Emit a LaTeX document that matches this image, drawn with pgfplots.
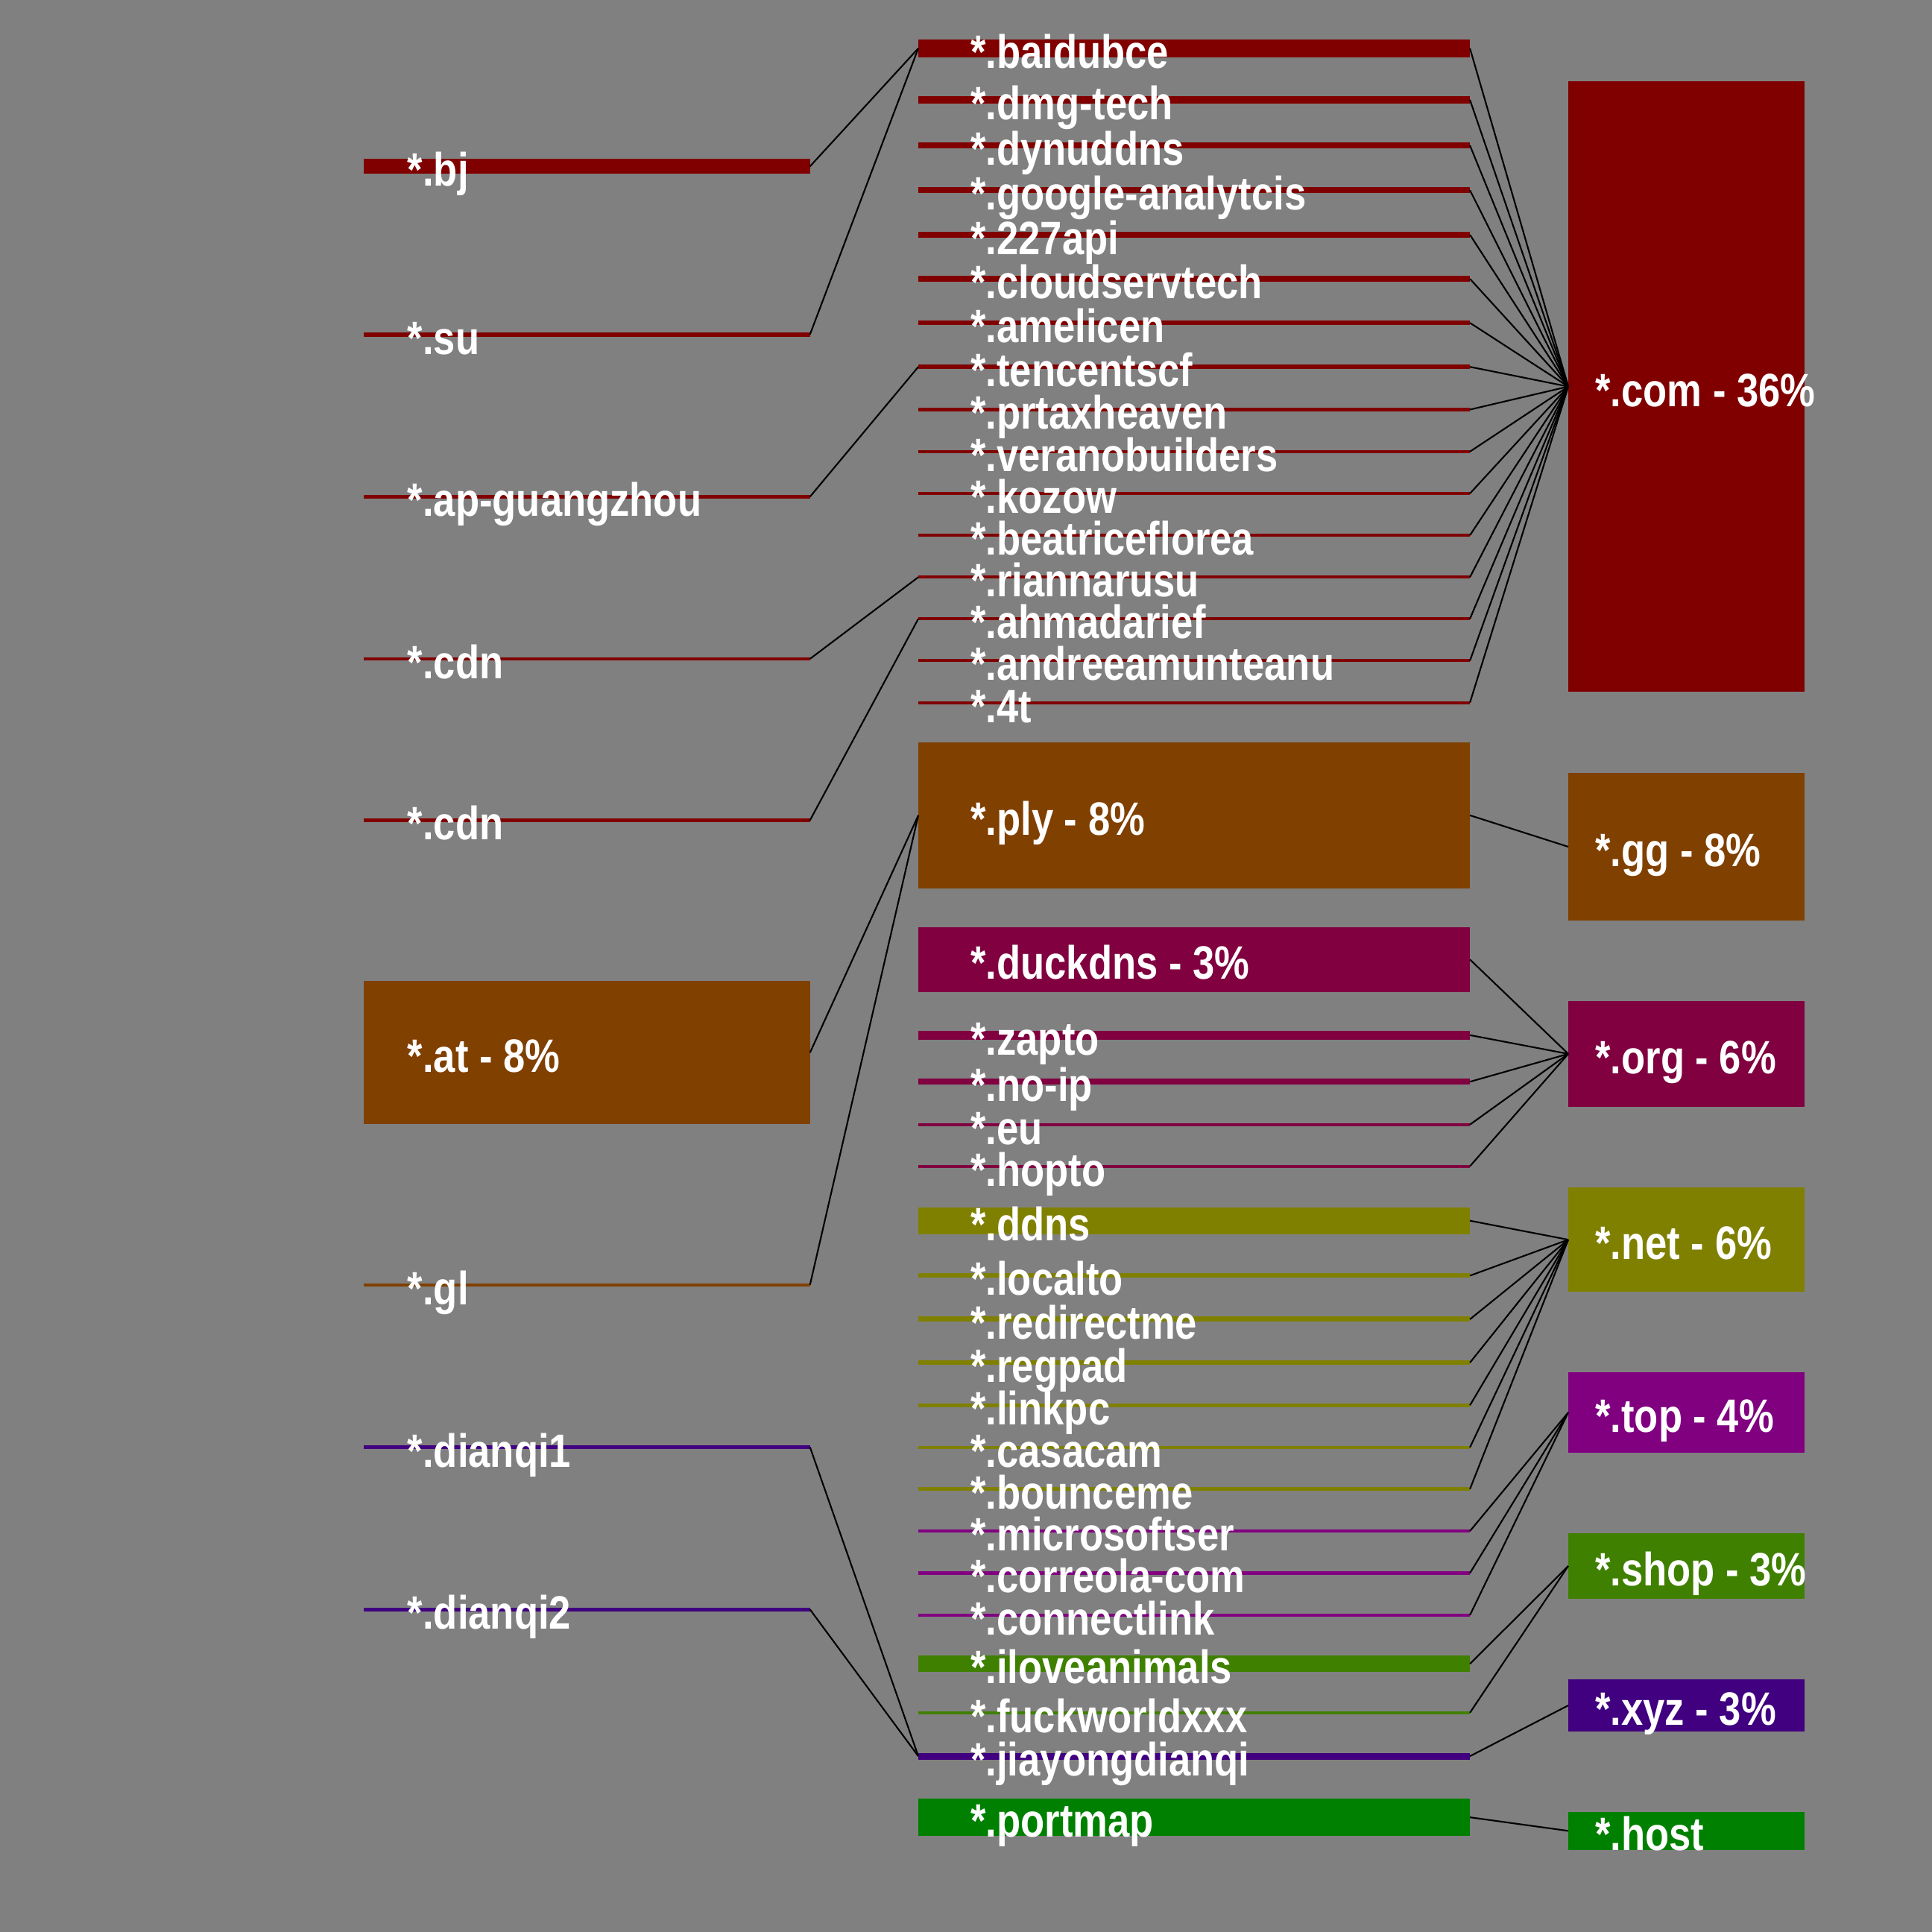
\documentclass[border=0pt]{standalone}
\usepackage{fontspec}
\newfontfamily\lblfont{Liberation Sans}[FakeStretch=0.837]
\usepackage{pgfplots}
\pgfplotsset{compat=1.18}
\definecolor{bg}{HTML}{808080}
\definecolor{cA}{HTML}{800000}
\definecolor{cB}{HTML}{804000}
\definecolor{cC}{HTML}{800040}
\definecolor{cD}{HTML}{808000}
\definecolor{cE}{HTML}{800080}
\definecolor{cF}{HTML}{408000}
\definecolor{cG}{HTML}{400080}
\definecolor{cH}{HTML}{008000}
% bar: x0 x1 y0 y1 colour
\newcommand{\bx}[5]{\addplot[fill=#5, draw=none] coordinates {(#1,#3) (#2,#3) (#2,#4) (#1,#4)};}
% link: x0 y0 x1 y1
\newcommand{\lk}[4]{\addplot[black, line width=0.32pt] coordinates {(#1,#2) (#3,#4)};}
% label: x y(baseline) text
\newcommand{\lb}[3]{\node[anchor=base west, inner sep=0pt, text=white, font={\lblfont\bfseries\fontsize{9.5}{11}\selectfont}] at (axis cs:#1,#2) {#3};}
\begin{document}
\begin{tikzpicture}
\begin{axis}[
  scale only axis, width=392pt, height=392pt,
  xmin=0, xmax=1568, ymin=0, ymax=1568, y dir=reverse,
  enlargelimits=false, hide axis, clip=false]
\bx{0}{1568}{0}{1568}{bg}
% left column
\bx{295.4}{657.4}{129.1}{140.8}{cA}
\bx{295.4}{657.4}{269.6}{273.2}{cA}
\bx{295.4}{657.4}{401.7}{404.5}{cA}
\bx{295.4}{657.4}{533.5}{536.0}{cA}
\bx{295.4}{657.4}{664.5}{667.0}{cA}
\bx{295.4}{657.4}{796.1}{912.5}{cB}
\bx{295.4}{657.4}{1041.6}{1043.8}{cB}
\bx{295.4}{657.4}{1173.1}{1175.9}{cG}
\bx{295.4}{657.4}{1304.8}{1307.6}{cG}
% middle column
\bx{745.3}{1193}{31.9}{46.4}{cA}
\bx{745.3}{1193}{78.0}{84.1}{cA}
\bx{745.3}{1193}{115.6}{120.4}{cA}
\bx{745.3}{1193}{151.8}{156.7}{cA}
\bx{745.3}{1193}{188.1}{193.0}{cA}
\bx{745.3}{1193}{224.0}{228.5}{cA}
\bx{745.3}{1193}{260.0}{264.0}{cA}
\bx{745.3}{1193}{295.8}{299.5}{cA}
\bx{745.3}{1193}{330.8}{334.0}{cA}
\bx{745.3}{1193}{365.2}{367.8}{cA}
\bx{745.3}{1193}{399.3}{401.7}{cA}
\bx{745.3}{1193}{433.2}{435.6}{cA}
\bx{745.3}{1193}{467.1}{469.7}{cA}
\bx{745.3}{1193}{501.0}{503.3}{cA}
\bx{745.3}{1193}{535.0}{537.4}{cA}
\bx{745.3}{1193}{569.0}{571.4}{cA}
\bx{745.3}{1193}{602.5}{720.9}{cB}
\bx{745.3}{1193}{752.5}{805.0}{cC}
\bx{745.3}{1193}{836.6}{843.6}{cC}
\bx{745.3}{1193}{875.5}{880.2}{cC}
\bx{745.3}{1193}{911.4}{914.0}{cC}
\bx{745.3}{1193}{945.2}{947.7}{cC}
\bx{745.3}{1193}{979.7}{1001.7}{cD}
\bx{745.3}{1193}{1033.4}{1037.1}{cD}
\bx{745.3}{1193}{1068.6}{1072.8}{cD}
\bx{745.3}{1193}{1104.0}{1107.7}{cD}
\bx{745.3}{1193}{1139.2}{1141.8}{cD}
\bx{745.3}{1193}{1173.3}{1176.0}{cD}
\bx{745.3}{1193}{1207.1}{1209.9}{cD}
\bx{745.3}{1193}{1241.2}{1244.0}{cE}
\bx{745.3}{1193}{1275.3}{1278.1}{cE}
\bx{745.3}{1193}{1309.4}{1312.2}{cE}
\bx{745.3}{1193}{1343.6}{1356.9}{cF}
\bx{745.3}{1193}{1388.7}{1391.2}{cF}
\bx{745.3}{1193}{1422.5}{1428.0}{cG}
\bx{745.3}{1193}{1459.6}{1490.2}{cH}
% right column
\bx{1272.8}{1464.6}{65.9}{561.5}{cA}
\bx{1272.8}{1464.6}{627.1}{747.2}{cB}
\bx{1272.8}{1464.6}{812.4}{898.1}{cC}
\bx{1272.8}{1464.6}{963.6}{1048.5}{cD}
\bx{1272.8}{1464.6}{1113.7}{1178.8}{cE}
\bx{1272.8}{1464.6}{1244.4}{1297.4}{cF}
\bx{1272.8}{1464.6}{1363.0}{1405.1}{cG}
\bx{1272.8}{1464.6}{1470.5}{1501.3}{cH}
% links left -> middle
\lk{657.4}{135.0}{745.3}{39.2}
\lk{657.4}{271.4}{745.3}{39.2}
\lk{657.4}{403.1}{745.3}{297.7}
\lk{657.4}{534.7}{745.3}{468.4}
\lk{657.4}{665.7}{745.3}{502.2}
\lk{657.4}{854.3}{745.3}{661.7}
\lk{657.4}{1042.7}{745.3}{661.7}
\lk{657.4}{1174.5}{745.3}{1425.3}
\lk{657.4}{1306.2}{745.3}{1425.3}
% links middle -> right
\lk{1193}{39.2}{1272.8}{313.7}
\lk{1193}{81.0}{1272.8}{313.7}
\lk{1193}{118.0}{1272.8}{313.7}
\lk{1193}{154.3}{1272.8}{313.7}
\lk{1193}{190.5}{1272.8}{313.7}
\lk{1193}{226.3}{1272.8}{313.7}
\lk{1193}{262.0}{1272.8}{313.7}
\lk{1193}{297.7}{1272.8}{313.7}
\lk{1193}{332.4}{1272.8}{313.7}
\lk{1193}{366.5}{1272.8}{313.7}
\lk{1193}{400.5}{1272.8}{313.7}
\lk{1193}{434.4}{1272.8}{313.7}
\lk{1193}{468.4}{1272.8}{313.7}
\lk{1193}{502.2}{1272.8}{313.7}
\lk{1193}{536.2}{1272.8}{313.7}
\lk{1193}{570.2}{1272.8}{313.7}
\lk{1193}{661.7}{1272.8}{687.2}
\lk{1193}{778.7}{1272.8}{855.3}
\lk{1193}{840.1}{1272.8}{855.3}
\lk{1193}{877.9}{1272.8}{855.3}
\lk{1193}{912.7}{1272.8}{855.3}
\lk{1193}{946.5}{1272.8}{855.3}
\lk{1193}{990.7}{1272.8}{1006.1}
\lk{1193}{1035.3}{1272.8}{1006.1}
\lk{1193}{1070.7}{1272.8}{1006.1}
\lk{1193}{1105.9}{1272.8}{1006.1}
\lk{1193}{1140.5}{1272.8}{1006.1}
\lk{1193}{1174.7}{1272.8}{1006.1}
\lk{1193}{1208.5}{1272.8}{1006.1}
\lk{1193}{1242.6}{1272.8}{1146.3}
\lk{1193}{1276.7}{1272.8}{1146.3}
\lk{1193}{1310.8}{1272.8}{1146.3}
\lk{1193}{1350.3}{1272.8}{1270.9}
\lk{1193}{1390.0}{1272.8}{1270.9}
\lk{1193}{1425.3}{1272.8}{1384.1}
\lk{1193}{1474.9}{1272.8}{1485.9}
% labels left
\lb{330}{151.0}{*.bj}
\lb{330}{287.4}{*.su}
\lb{330}{419.1}{*.ap-guangzhou}
\lb{330}{550.7}{*.cdn}
\lb{330}{681.7}{*.cdn}
\lb{330}{870.3}{*.at - 8\%}
\lb{330}{1058.7}{*.gl}
\lb{330}{1190.5}{*.dianqi1}
\lb{330}{1322.2}{*.dianqi2}
% labels middle
\lb{787}{55.2}{*.baidubce}
\lb{787}{97.0}{*.dmg-tech}
\lb{787}{134.0}{*.dynuddns}
\lb{787}{170.3}{*.google-analytcis}
\lb{787}{206.5}{*.227api}
\lb{787}{242.3}{*.cloudservtech}
\lb{787}{278.0}{*.amelicen}
\lb{787}{313.7}{*.tencentscf}
\lb{787}{348.4}{*.prtaxheaven}
\lb{787}{382.5}{*.veranobuilders}
\lb{787}{416.5}{*.kozow}
\lb{787}{450.4}{*.beatriceflorea}
\lb{787}{484.4}{*.riannarusu}
\lb{787}{518.2}{*.ahmadarief}
\lb{787}{552.2}{*.andreeamunteanu}
\lb{787}{586.2}{*.4t}
\lb{787}{677.7}{*.ply - 8\%}
\lb{787}{794.7}{*.duckdns - 3\%}
\lb{787}{856.1}{*.zapto}
\lb{787}{893.9}{*.no-ip}
\lb{787}{928.7}{*.eu}
\lb{787}{962.5}{*.hopto}
\lb{787}{1006.7}{*.ddns}
\lb{787}{1051.3}{*.localto}
\lb{787}{1086.7}{*.redirectme}
\lb{787}{1121.9}{*.regpad}
\lb{787}{1156.5}{*.linkpc}
\lb{787}{1190.7}{*.casacam}
\lb{787}{1224.5}{*.bounceme}
\lb{787}{1258.6}{*.microsoftser}
\lb{787}{1292.7}{*.correola-com}
\lb{787}{1326.8}{*.connectlink}
\lb{787}{1366.3}{*.iloveanimals}
\lb{787}{1406.0}{*.fuckworldxxx}
\lb{787}{1441.3}{*.jiayongdianqi}
\lb{787}{1490.9}{*.portmap}
% labels right
\lb{1294}{329.7}{*.com - 36\%}
\lb{1294}{703.2}{*.gg - 8\%}
\lb{1294}{871.3}{*.org - 6\%}
\lb{1294}{1022.1}{*.net - 6\%}
\lb{1294}{1162.3}{*.top - 4\%}
\lb{1294}{1286.9}{*.shop - 3\%}
\lb{1294}{1400.1}{*.xyz - 3\%}
\lb{1294}{1501.9}{*.host}
\end{axis}
\end{tikzpicture}
\end{document}
